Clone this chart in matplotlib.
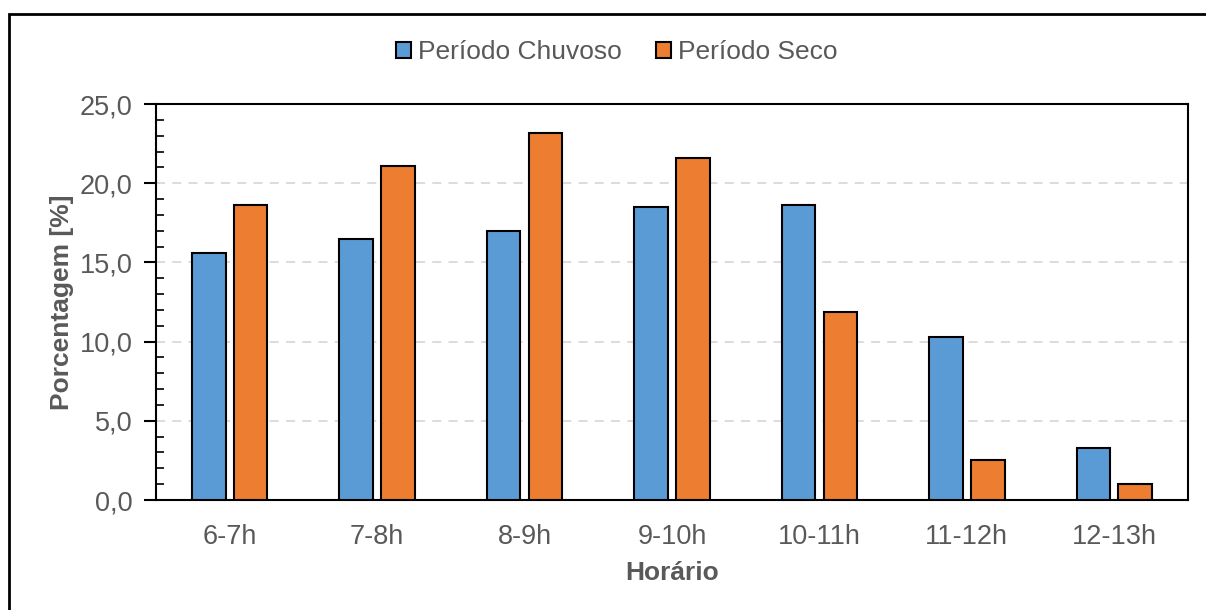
import matplotlib
matplotlib.use("Agg")
import matplotlib.pyplot as plt
import numpy as np
from matplotlib.patches import Patch, Rectangle
from matplotlib.ticker import MultipleLocator, FuncFormatter

plt.rcParams['font.family'] = ['Liberation Sans', 'DejaVu Sans']

categories = ["6-7h", "7-8h", "8-9h", "9-10h", "10-11h", "11-12h", "12-13h"]
chuvoso = [15.6, 16.5, 17.0, 18.5, 18.6, 10.3, 3.3]
seco = [18.6, 21.1, 23.2, 21.6, 11.9, 2.5, 1.0]
series_names = ["Período Chuvoso", "Período Seco"]
colors = ["#5B9BD5", "#ED7D31"]
text_gray = "#595959"

W, H = 1206, 610
fig = plt.figure(figsize=(W / 100, H / 100), dpi=100)
ax = fig.add_axes([156 / W, 1 - 500 / H, (1188 - 156) / W, (500 - 104) / H])

x = np.arange(len(categories))
bw = 0.227
off = 0.142
ax.bar(x - off, chuvoso, bw, color=colors[0], edgecolor="black", linewidth=1.5, zorder=3)
ax.bar(x + off, seco, bw, color=colors[1], edgecolor="black", linewidth=1.5, zorder=3)

ax.set_xlim(-0.5, len(categories) - 0.5)
ax.set_ylim(0, 25)
ax.yaxis.set_major_locator(MultipleLocator(5))
ax.yaxis.set_minor_locator(MultipleLocator(1))
ax.yaxis.set_major_formatter(FuncFormatter(lambda v, p: f"{v:.1f}".replace(".", ",")))
ax.set_xticks(x)
ax.set_xticklabels(categories)

ax.tick_params(axis="y", which="major", direction="out", length=9, width=1.5,
               labelsize=19.5, labelcolor=text_gray, pad=8)
ax.tick_params(axis="y", which="minor", direction="in", length=6, width=1.2)
ax.tick_params(axis="x", length=0, labelsize=19.5, labelcolor=text_gray, pad=17)

ax.grid(axis="y", which="major", linestyle=(0, (5, 4)), color="#D9D9D9", linewidth=1.3, zorder=0)
ax.set_axisbelow(True)
for s in ax.spines.values():
    s.set_linewidth(1.5)
    s.set_color("black")

ax.set_ylabel("Porcentagem [%]", fontsize=19, fontweight="bold", color=text_gray, labelpad=4)
ax.set_xlabel("Horário", fontsize=19, fontweight="bold", color=text_gray, labelpad=8)

handles = [Patch(facecolor=c, edgecolor="black", linewidth=1.5) for c in colors]
fig.legend(handles, series_names, loc="center", bbox_to_anchor=(617 / W, 1 - 52 / H),
           ncol=2, frameon=False, fontsize=19, handlelength=0.57, handleheight=0.57,
           handletextpad=0.27, columnspacing=1.3, labelcolor=text_gray)

# chart border
fig.add_artist(Rectangle((9 / W, -0.05), 1.1, 1 - 14 / H + 0.05, transform=fig.transFigure,
                         fill=False, edgecolor="black", linewidth=2))

fig.savefig("out.png", dpi=100)
